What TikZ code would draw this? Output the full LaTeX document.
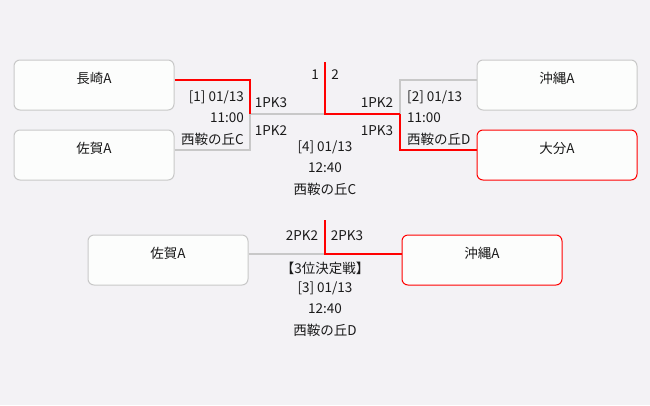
\documentclass[tikz,border=0pt]{standalone}
\usepackage{fontspec}
\newfontfamily\jp{Noto Sans CJK JP}
\definecolor{bg}{HTML}{F3F2F5}
\definecolor{boxfill}{HTML}{FCFDFC}
\definecolor{lgray}{HTML}{C8C8C8}
\definecolor{wred}{HTML}{FF0000}
\definecolor{txt}{HTML}{1A1A1A}
\begin{document}
\begin{tikzpicture}[x=1pt,y=-1pt,
  team/.style={draw=lgray,line width=1pt,fill=boxfill,rounded corners=6pt,minimum width=160pt,minimum height=50pt,inner sep=0pt},
  winteam/.style={team,draw=wred},
  lbl/.style={font=\jp\fontsize{13.5}{15}\selectfont,text=txt,inner sep=0pt},
  win/.style={draw=wred,line width=2pt},
  lose/.style={draw=lgray,line width=2pt}]
\useasboundingbox[fill=bg] (0,0) rectangle (650,405);
% boxes
\node[team] (nagasaki) at (94,85) {};
\node[team] (saga) at (94,155) {};
\node[team] (okinawa) at (557,85) {};
\node[winteam] (oita) at (557,155) {};
\node[team] (saga2) at (168,260) {};
\node[winteam] (okinawa2) at (482,260) {};
% box texts
\node[lbl] (tNagasaki) at (94,78) {長崎A};
\node[lbl] (tSaga) at (94,148) {佐賀A};
\node[lbl] (tOkinawa) at (557,78) {沖縄A};
\node[lbl] (tOita) at (557,148) {大分A};
\node[lbl] (tSaga2) at (168,253) {佐賀A};
\node[lbl] (tOkinawa2) at (482,253) {沖縄A};
% junctions
\coordinate (m1) at (250,114);
\coordinate (fin) at (325,114);
\coordinate (top) at (325,62);
\coordinate (m2) at (400,114);
\coordinate (m3) at (325,254);
\coordinate (top3) at (325,220);
% connectors
\draw[lose] ([yshift=5pt]saga.east) -| (m1);
\draw[lose] ([yshift=5pt]okinawa.west) -| (m2);
\draw[lose] (m1) -- (fin);
\draw[win] ([yshift=5pt]nagasaki.east) -| (m1);
\draw[win] ([yshift=5pt]oita.west) -| (m2);
\draw[win] (top) -- (fin) -- (m2);
\draw[lose] ([yshift=6pt]saga2.east) -- (m3);
\draw[win] (top3) -- (m3) -- ([yshift=6pt]okinawa2.west);
% labels
\node[lbl] (n1) at (315,75) {1};
\node[lbl] (n2) at (335,75) {2};
\node[lbl] (pkA) at (271,103) {1PK3};
\node[lbl] (pkB) at (271,131) {1PK2};
\node[lbl] (pkC) at (377,103) {1PK2};
\node[lbl] (pkD) at (377,131) {1PK3};
\node[lbl,anchor=east] (i1a) at (244,97) {[1] 01/13};
\node[lbl,anchor=east] (i1b) at (244,118) {11:00};
\node[lbl,anchor=east] (i1c) at (244,139) {西鞍の丘C};
\node[lbl,anchor=west] (i2a) at (407,97) {[2] 01/13};
\node[lbl,anchor=west] (i2b) at (407,118) {11:00};
\node[lbl,anchor=west] (i2c) at (407,139) {西鞍の丘D};
\node[lbl] (i4a) at (325,147) {[4] 01/13};
\node[lbl] (i4b) at (325,168) {12:40};
\node[lbl] (i4c) at (325,189) {西鞍の丘C};
\node[lbl] (pkE) at (302,236) {2PK2};
\node[lbl] (pkF) at (347,236) {2PK3};
\node[lbl] (i3t) at (325,268) {【3位決定戦】};
\node[lbl] (i3a) at (325,288) {[3] 01/13};
\node[lbl] (i3b) at (325,309) {12:40};
\node[lbl] (i3c) at (325,330) {西鞍の丘D};
\end{tikzpicture}
\end{document}
